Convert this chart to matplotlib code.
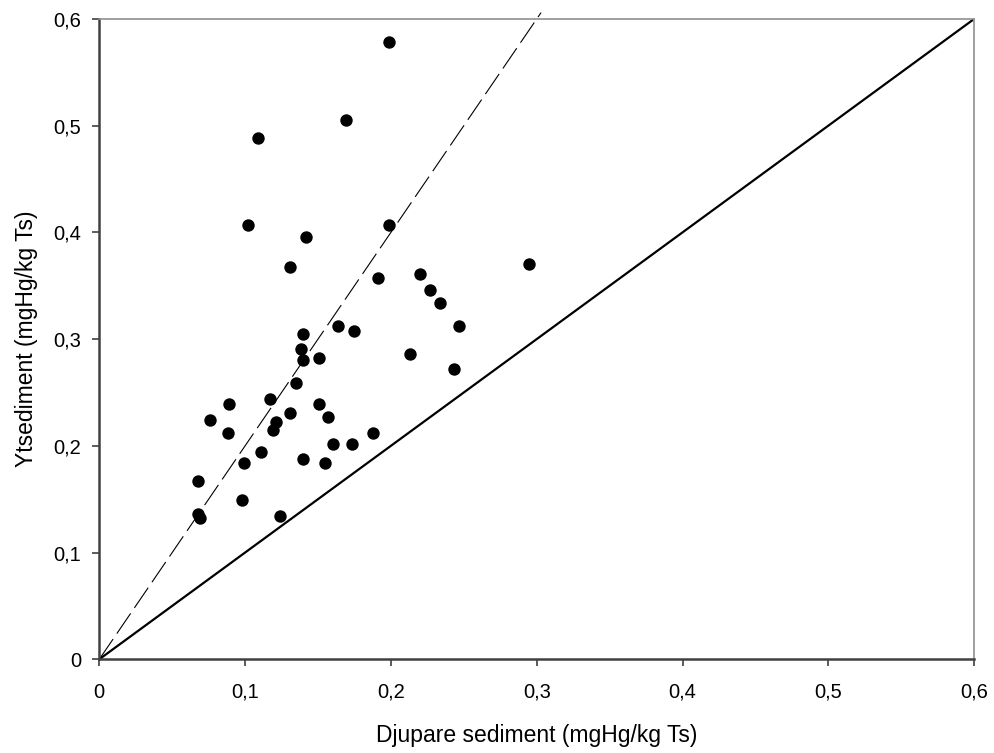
import matplotlib.pyplot as plt
from matplotlib.ticker import FuncFormatter
import numpy as np

plt.rcParams['font.family'] = ['Liberation Sans', 'DejaVu Sans']

# mgHg/kg Ts, deeper sediment (x) vs surface sediment (y)
djupare = [0.199, 0.169, 0.109, 0.102, 0.199, 0.142, 0.131, 0.191, 0.220, 0.227,
           0.234, 0.295, 0.247, 0.164, 0.175, 0.140, 0.138, 0.140, 0.151, 0.213,
           0.243, 0.135, 0.117, 0.089, 0.151, 0.131, 0.076, 0.121, 0.157, 0.119,
           0.088, 0.188, 0.160, 0.173, 0.111, 0.099, 0.140, 0.155, 0.068, 0.098,
           0.068, 0.069, 0.124]
ytsediment = [0.578, 0.505, 0.488, 0.407, 0.407, 0.396, 0.368, 0.357, 0.361, 0.346,
              0.334, 0.370, 0.312, 0.312, 0.308, 0.305, 0.291, 0.280, 0.282, 0.286,
              0.272, 0.259, 0.244, 0.239, 0.239, 0.231, 0.224, 0.222, 0.227, 0.215,
              0.212, 0.212, 0.202, 0.202, 0.194, 0.184, 0.188, 0.184, 0.167, 0.149,
              0.136, 0.132, 0.134]

ticks = [0, 0.1, 0.2, 0.3, 0.4, 0.5, 0.6]

fig = plt.figure(figsize=(9.95, 7.53), dpi=100)
ax = fig.add_axes([0.0998, 0.1245, 0.8792, 0.8503])

# 1:1 line and 2:1 line
ax.plot([0, 0.6], [0, 0.6], color='black', linewidth=1.6, zorder=2)
xs = np.array([0, 0.303])
ax.plot(xs, 2 * xs, color='black', linewidth=0.8, dashes=(22, 6), clip_on=False, zorder=2)

ax.scatter(djupare, ytsediment, s=80, color='black', zorder=3, linewidths=0)

ax.set_xlim(0, 0.6)
ax.set_ylim(0, 0.6)
ax.set_xticks(ticks)
ax.set_yticks(ticks)
fmt = FuncFormatter(lambda v, p: '0' if v == 0 else ('%.1f' % v).replace('.', ','))
ax.xaxis.set_major_formatter(fmt)
ax.yaxis.set_major_formatter(fmt)
ax.tick_params(direction='out', length=5, width=1.2, color='#404040', labelsize=14.5, pad=8)
ax.tick_params(axis='x', pad=12)

for side in ['left', 'bottom']:
    ax.spines[side].set_color('#404040')
    ax.spines[side].set_linewidth(1.8)
for side in ['top', 'right']:
    ax.spines[side].set_color('#909090')
    ax.spines[side].set_linewidth(1.2)

ax.set_xlabel('Djupare sediment (mgHg/kg Ts)', fontsize=16.5, labelpad=16)
ax.set_ylabel('Ytsediment (mgHg/kg Ts)', fontsize=16.5, labelpad=11)

fig.savefig('out.png', dpi=100)
